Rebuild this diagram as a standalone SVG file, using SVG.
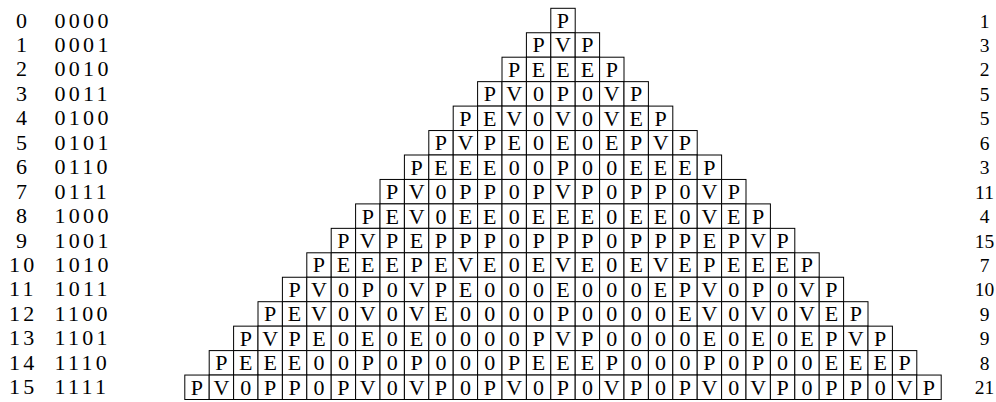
<svg xmlns="http://www.w3.org/2000/svg" xmlns:xlink="http://www.w3.org/1999/xlink" width="996" height="402" viewBox="0 0 996 402">
<style>
.box{fill:#fff;stroke:#000;stroke-width:1}
.t{font-family:"Liberation Serif","Times New Roman",serif;font-size:22px;text-anchor:middle;fill:#000}
.l{font-family:"Liberation Serif","Times New Roman",serif;font-size:22px;letter-spacing:3.3px;fill:#000}
.r{font-family:"Liberation Serif","Times New Roman",serif;font-size:19.5px;text-anchor:middle;fill:#000}
</style>
<defs><rect id="c" class="box" width="24.4" height="24.45"/></defs>
<rect width="996" height="402" fill="#fff"/>
<g id="labels">
<text class="l" x="16" y="27.5">0</text><text class="l" x="54.5" y="27.5">0000</text>
<text class="l" x="16" y="51.95">1</text><text class="l" x="54.5" y="51.95">0001</text>
<text class="l" x="16" y="76.4">2</text><text class="l" x="54.5" y="76.4">0010</text>
<text class="l" x="16" y="100.85">3</text><text class="l" x="54.5" y="100.85">0011</text>
<text class="l" x="16" y="125.3">4</text><text class="l" x="54.5" y="125.3">0100</text>
<text class="l" x="16" y="149.75">5</text><text class="l" x="54.5" y="149.75">0101</text>
<text class="l" x="16" y="174.2">6</text><text class="l" x="54.5" y="174.2">0110</text>
<text class="l" x="16" y="198.65">7</text><text class="l" x="54.5" y="198.65">0111</text>
<text class="l" x="16" y="223.1">8</text><text class="l" x="54.5" y="223.1">1000</text>
<text class="l" x="16" y="247.55">9</text><text class="l" x="54.5" y="247.55">1001</text>
<text class="l" x="9" y="272">10</text><text class="l" x="54.5" y="272">1010</text>
<text class="l" x="9" y="296.45">11</text><text class="l" x="54.5" y="296.45">1011</text>
<text class="l" x="9" y="320.9">12</text><text class="l" x="54.5" y="320.9">1100</text>
<text class="l" x="9" y="345.35">13</text><text class="l" x="54.5" y="345.35">1101</text>
<text class="l" x="9" y="369.8">14</text><text class="l" x="54.5" y="369.8">1110</text>
<text class="l" x="9" y="394.25">15</text><text class="l" x="54.5" y="394.25">1111</text>
</g>
<g id="counts">
<text class="r" x="984.5" y="27.5">1</text>
<text class="r" x="984.5" y="51.95">3</text>
<text class="r" x="984.5" y="76.4">2</text>
<text class="r" x="984.5" y="100.85">5</text>
<text class="r" x="984.5" y="125.3">5</text>
<text class="r" x="984.5" y="149.75">6</text>
<text class="r" x="984.5" y="174.2">3</text>
<text class="r" x="984.5" y="198.65">11</text>
<text class="r" x="984.5" y="223.1">4</text>
<text class="r" x="984.5" y="247.55">15</text>
<text class="r" x="984.5" y="272">7</text>
<text class="r" x="984.5" y="296.45">10</text>
<text class="r" x="984.5" y="320.9">9</text>
<text class="r" x="984.5" y="345.35">9</text>
<text class="r" x="984.5" y="369.8">8</text>
<text class="r" x="984.5" y="394.25">21</text>
</g>
<g id="connectors"></g>
<g id="row0" transform="translate(550.8,8.3)">
<use href="#c" x="0"/><text class="t" x="12.2" y="19.6">P</text>
</g>
<g id="row1" transform="translate(526.4,32.75)">
<use href="#c" x="0"/><text class="t" x="12.2" y="19.6">P</text>
<use href="#c" x="24.4"/><text class="t" x="36.6" y="19.6">V</text>
<use href="#c" x="48.8"/><text class="t" x="61" y="19.6">P</text>
</g>
<g id="row2" transform="translate(502,57.2)">
<use href="#c" x="0"/><text class="t" x="12.2" y="19.6">P</text>
<use href="#c" x="24.4"/><text class="t" x="36.6" y="19.6">E</text>
<use href="#c" x="48.8"/><text class="t" x="61" y="19.6">E</text>
<use href="#c" x="73.2"/><text class="t" x="85.4" y="19.6">E</text>
<use href="#c" x="97.6"/><text class="t" x="109.8" y="19.6">P</text>
</g>
<g id="row3" transform="translate(477.6,81.65)">
<use href="#c" x="0"/><text class="t" x="12.2" y="19.6">P</text>
<use href="#c" x="24.4"/><text class="t" x="36.6" y="19.6">V</text>
<use href="#c" x="48.8"/><text class="t" x="61" y="19.6">0</text>
<use href="#c" x="73.2"/><text class="t" x="85.4" y="19.6">P</text>
<use href="#c" x="97.6"/><text class="t" x="109.8" y="19.6">0</text>
<use href="#c" x="122"/><text class="t" x="134.2" y="19.6">V</text>
<use href="#c" x="146.4"/><text class="t" x="158.6" y="19.6">P</text>
</g>
<g id="row4" transform="translate(453.2,106.1)">
<use href="#c" x="0"/><text class="t" x="12.2" y="19.6">P</text>
<use href="#c" x="24.4"/><text class="t" x="36.6" y="19.6">E</text>
<use href="#c" x="48.8"/><text class="t" x="61" y="19.6">V</text>
<use href="#c" x="73.2"/><text class="t" x="85.4" y="19.6">0</text>
<use href="#c" x="97.6"/><text class="t" x="109.8" y="19.6">V</text>
<use href="#c" x="122"/><text class="t" x="134.2" y="19.6">0</text>
<use href="#c" x="146.4"/><text class="t" x="158.6" y="19.6">V</text>
<use href="#c" x="170.8"/><text class="t" x="183" y="19.6">E</text>
<use href="#c" x="195.2"/><text class="t" x="207.4" y="19.6">P</text>
</g>
<g id="row5" transform="translate(428.8,130.55)">
<use href="#c" x="0"/><text class="t" x="12.2" y="19.6">P</text>
<use href="#c" x="24.4"/><text class="t" x="36.6" y="19.6">V</text>
<use href="#c" x="48.8"/><text class="t" x="61" y="19.6">P</text>
<use href="#c" x="73.2"/><text class="t" x="85.4" y="19.6">E</text>
<use href="#c" x="97.6"/><text class="t" x="109.8" y="19.6">0</text>
<use href="#c" x="122"/><text class="t" x="134.2" y="19.6">E</text>
<use href="#c" x="146.4"/><text class="t" x="158.6" y="19.6">0</text>
<use href="#c" x="170.8"/><text class="t" x="183" y="19.6">E</text>
<use href="#c" x="195.2"/><text class="t" x="207.4" y="19.6">P</text>
<use href="#c" x="219.6"/><text class="t" x="231.8" y="19.6">V</text>
<use href="#c" x="244"/><text class="t" x="256.2" y="19.6">P</text>
</g>
<g id="row6" transform="translate(404.4,155)">
<use href="#c" x="0"/><text class="t" x="12.2" y="19.6">P</text>
<use href="#c" x="24.4"/><text class="t" x="36.6" y="19.6">E</text>
<use href="#c" x="48.8"/><text class="t" x="61" y="19.6">E</text>
<use href="#c" x="73.2"/><text class="t" x="85.4" y="19.6">E</text>
<use href="#c" x="97.6"/><text class="t" x="109.8" y="19.6">0</text>
<use href="#c" x="122"/><text class="t" x="134.2" y="19.6">0</text>
<use href="#c" x="146.4"/><text class="t" x="158.6" y="19.6">P</text>
<use href="#c" x="170.8"/><text class="t" x="183" y="19.6">0</text>
<use href="#c" x="195.2"/><text class="t" x="207.4" y="19.6">0</text>
<use href="#c" x="219.6"/><text class="t" x="231.8" y="19.6">E</text>
<use href="#c" x="244"/><text class="t" x="256.2" y="19.6">E</text>
<use href="#c" x="268.4"/><text class="t" x="280.6" y="19.6">E</text>
<use href="#c" x="292.8"/><text class="t" x="305" y="19.6">P</text>
</g>
<g id="row7" transform="translate(380,179.45)">
<use href="#c" x="0"/><text class="t" x="12.2" y="19.6">P</text>
<use href="#c" x="24.4"/><text class="t" x="36.6" y="19.6">V</text>
<use href="#c" x="48.8"/><text class="t" x="61" y="19.6">0</text>
<use href="#c" x="73.2"/><text class="t" x="85.4" y="19.6">P</text>
<use href="#c" x="97.6"/><text class="t" x="109.8" y="19.6">P</text>
<use href="#c" x="122"/><text class="t" x="134.2" y="19.6">0</text>
<use href="#c" x="146.4"/><text class="t" x="158.6" y="19.6">P</text>
<use href="#c" x="170.8"/><text class="t" x="183" y="19.6">V</text>
<use href="#c" x="195.2"/><text class="t" x="207.4" y="19.6">P</text>
<use href="#c" x="219.6"/><text class="t" x="231.8" y="19.6">0</text>
<use href="#c" x="244"/><text class="t" x="256.2" y="19.6">P</text>
<use href="#c" x="268.4"/><text class="t" x="280.6" y="19.6">P</text>
<use href="#c" x="292.8"/><text class="t" x="305" y="19.6">0</text>
<use href="#c" x="317.2"/><text class="t" x="329.4" y="19.6">V</text>
<use href="#c" x="341.6"/><text class="t" x="353.8" y="19.6">P</text>
</g>
<g id="row8" transform="translate(355.6,203.9)">
<use href="#c" x="0"/><text class="t" x="12.2" y="19.6">P</text>
<use href="#c" x="24.4"/><text class="t" x="36.6" y="19.6">E</text>
<use href="#c" x="48.8"/><text class="t" x="61" y="19.6">V</text>
<use href="#c" x="73.2"/><text class="t" x="85.4" y="19.6">0</text>
<use href="#c" x="97.6"/><text class="t" x="109.8" y="19.6">E</text>
<use href="#c" x="122"/><text class="t" x="134.2" y="19.6">E</text>
<use href="#c" x="146.4"/><text class="t" x="158.6" y="19.6">0</text>
<use href="#c" x="170.8"/><text class="t" x="183" y="19.6">E</text>
<use href="#c" x="195.2"/><text class="t" x="207.4" y="19.6">E</text>
<use href="#c" x="219.6"/><text class="t" x="231.8" y="19.6">E</text>
<use href="#c" x="244"/><text class="t" x="256.2" y="19.6">0</text>
<use href="#c" x="268.4"/><text class="t" x="280.6" y="19.6">E</text>
<use href="#c" x="292.8"/><text class="t" x="305" y="19.6">E</text>
<use href="#c" x="317.2"/><text class="t" x="329.4" y="19.6">0</text>
<use href="#c" x="341.6"/><text class="t" x="353.8" y="19.6">V</text>
<use href="#c" x="366"/><text class="t" x="378.2" y="19.6">E</text>
<use href="#c" x="390.4"/><text class="t" x="402.6" y="19.6">P</text>
</g>
<g id="row9" transform="translate(331.2,228.35)">
<use href="#c" x="0"/><text class="t" x="12.2" y="19.6">P</text>
<use href="#c" x="24.4"/><text class="t" x="36.6" y="19.6">V</text>
<use href="#c" x="48.8"/><text class="t" x="61" y="19.6">P</text>
<use href="#c" x="73.2"/><text class="t" x="85.4" y="19.6">E</text>
<use href="#c" x="97.6"/><text class="t" x="109.8" y="19.6">P</text>
<use href="#c" x="122"/><text class="t" x="134.2" y="19.6">P</text>
<use href="#c" x="146.4"/><text class="t" x="158.6" y="19.6">P</text>
<use href="#c" x="170.8"/><text class="t" x="183" y="19.6">0</text>
<use href="#c" x="195.2"/><text class="t" x="207.4" y="19.6">P</text>
<use href="#c" x="219.6"/><text class="t" x="231.8" y="19.6">P</text>
<use href="#c" x="244"/><text class="t" x="256.2" y="19.6">P</text>
<use href="#c" x="268.4"/><text class="t" x="280.6" y="19.6">0</text>
<use href="#c" x="292.8"/><text class="t" x="305" y="19.6">P</text>
<use href="#c" x="317.2"/><text class="t" x="329.4" y="19.6">P</text>
<use href="#c" x="341.6"/><text class="t" x="353.8" y="19.6">P</text>
<use href="#c" x="366"/><text class="t" x="378.2" y="19.6">E</text>
<use href="#c" x="390.4"/><text class="t" x="402.6" y="19.6">P</text>
<use href="#c" x="414.8"/><text class="t" x="427" y="19.6">V</text>
<use href="#c" x="439.2"/><text class="t" x="451.4" y="19.6">P</text>
</g>
<g id="row10" transform="translate(306.8,252.8)">
<use href="#c" x="0"/><text class="t" x="12.2" y="19.6">P</text>
<use href="#c" x="24.4"/><text class="t" x="36.6" y="19.6">E</text>
<use href="#c" x="48.8"/><text class="t" x="61" y="19.6">E</text>
<use href="#c" x="73.2"/><text class="t" x="85.4" y="19.6">E</text>
<use href="#c" x="97.6"/><text class="t" x="109.8" y="19.6">P</text>
<use href="#c" x="122"/><text class="t" x="134.2" y="19.6">E</text>
<use href="#c" x="146.4"/><text class="t" x="158.6" y="19.6">V</text>
<use href="#c" x="170.8"/><text class="t" x="183" y="19.6">E</text>
<use href="#c" x="195.2"/><text class="t" x="207.4" y="19.6">0</text>
<use href="#c" x="219.6"/><text class="t" x="231.8" y="19.6">E</text>
<use href="#c" x="244"/><text class="t" x="256.2" y="19.6">V</text>
<use href="#c" x="268.4"/><text class="t" x="280.6" y="19.6">E</text>
<use href="#c" x="292.8"/><text class="t" x="305" y="19.6">0</text>
<use href="#c" x="317.2"/><text class="t" x="329.4" y="19.6">E</text>
<use href="#c" x="341.6"/><text class="t" x="353.8" y="19.6">V</text>
<use href="#c" x="366"/><text class="t" x="378.2" y="19.6">E</text>
<use href="#c" x="390.4"/><text class="t" x="402.6" y="19.6">P</text>
<use href="#c" x="414.8"/><text class="t" x="427" y="19.6">E</text>
<use href="#c" x="439.2"/><text class="t" x="451.4" y="19.6">E</text>
<use href="#c" x="463.6"/><text class="t" x="475.8" y="19.6">E</text>
<use href="#c" x="488"/><text class="t" x="500.2" y="19.6">P</text>
</g>
<g id="row11" transform="translate(282.4,277.25)">
<use href="#c" x="0"/><text class="t" x="12.2" y="19.6">P</text>
<use href="#c" x="24.4"/><text class="t" x="36.6" y="19.6">V</text>
<use href="#c" x="48.8"/><text class="t" x="61" y="19.6">0</text>
<use href="#c" x="73.2"/><text class="t" x="85.4" y="19.6">P</text>
<use href="#c" x="97.6"/><text class="t" x="109.8" y="19.6">0</text>
<use href="#c" x="122"/><text class="t" x="134.2" y="19.6">V</text>
<use href="#c" x="146.4"/><text class="t" x="158.6" y="19.6">P</text>
<use href="#c" x="170.8"/><text class="t" x="183" y="19.6">E</text>
<use href="#c" x="195.2"/><text class="t" x="207.4" y="19.6">0</text>
<use href="#c" x="219.6"/><text class="t" x="231.8" y="19.6">0</text>
<use href="#c" x="244"/><text class="t" x="256.2" y="19.6">0</text>
<use href="#c" x="268.4"/><text class="t" x="280.6" y="19.6">E</text>
<use href="#c" x="292.8"/><text class="t" x="305" y="19.6">0</text>
<use href="#c" x="317.2"/><text class="t" x="329.4" y="19.6">0</text>
<use href="#c" x="341.6"/><text class="t" x="353.8" y="19.6">0</text>
<use href="#c" x="366"/><text class="t" x="378.2" y="19.6">E</text>
<use href="#c" x="390.4"/><text class="t" x="402.6" y="19.6">P</text>
<use href="#c" x="414.8"/><text class="t" x="427" y="19.6">V</text>
<use href="#c" x="439.2"/><text class="t" x="451.4" y="19.6">0</text>
<use href="#c" x="463.6"/><text class="t" x="475.8" y="19.6">P</text>
<use href="#c" x="488"/><text class="t" x="500.2" y="19.6">0</text>
<use href="#c" x="512.4"/><text class="t" x="524.6" y="19.6">V</text>
<use href="#c" x="536.8"/><text class="t" x="549" y="19.6">P</text>
</g>
<g id="row12" transform="translate(258,301.7)">
<use href="#c" x="0"/><text class="t" x="12.2" y="19.6">P</text>
<use href="#c" x="24.4"/><text class="t" x="36.6" y="19.6">E</text>
<use href="#c" x="48.8"/><text class="t" x="61" y="19.6">V</text>
<use href="#c" x="73.2"/><text class="t" x="85.4" y="19.6">0</text>
<use href="#c" x="97.6"/><text class="t" x="109.8" y="19.6">V</text>
<use href="#c" x="122"/><text class="t" x="134.2" y="19.6">0</text>
<use href="#c" x="146.4"/><text class="t" x="158.6" y="19.6">V</text>
<use href="#c" x="170.8"/><text class="t" x="183" y="19.6">E</text>
<use href="#c" x="195.2"/><text class="t" x="207.4" y="19.6">0</text>
<use href="#c" x="219.6"/><text class="t" x="231.8" y="19.6">0</text>
<use href="#c" x="244"/><text class="t" x="256.2" y="19.6">0</text>
<use href="#c" x="268.4"/><text class="t" x="280.6" y="19.6">0</text>
<use href="#c" x="292.8"/><text class="t" x="305" y="19.6">P</text>
<use href="#c" x="317.2"/><text class="t" x="329.4" y="19.6">0</text>
<use href="#c" x="341.6"/><text class="t" x="353.8" y="19.6">0</text>
<use href="#c" x="366"/><text class="t" x="378.2" y="19.6">0</text>
<use href="#c" x="390.4"/><text class="t" x="402.6" y="19.6">0</text>
<use href="#c" x="414.8"/><text class="t" x="427" y="19.6">E</text>
<use href="#c" x="439.2"/><text class="t" x="451.4" y="19.6">V</text>
<use href="#c" x="463.6"/><text class="t" x="475.8" y="19.6">0</text>
<use href="#c" x="488"/><text class="t" x="500.2" y="19.6">V</text>
<use href="#c" x="512.4"/><text class="t" x="524.6" y="19.6">0</text>
<use href="#c" x="536.8"/><text class="t" x="549" y="19.6">V</text>
<use href="#c" x="561.2"/><text class="t" x="573.4" y="19.6">E</text>
<use href="#c" x="585.6"/><text class="t" x="597.8" y="19.6">P</text>
</g>
<g id="row13" transform="translate(233.6,326.15)">
<use href="#c" x="0"/><text class="t" x="12.2" y="19.6">P</text>
<use href="#c" x="24.4"/><text class="t" x="36.6" y="19.6">V</text>
<use href="#c" x="48.8"/><text class="t" x="61" y="19.6">P</text>
<use href="#c" x="73.2"/><text class="t" x="85.4" y="19.6">E</text>
<use href="#c" x="97.6"/><text class="t" x="109.8" y="19.6">0</text>
<use href="#c" x="122"/><text class="t" x="134.2" y="19.6">E</text>
<use href="#c" x="146.4"/><text class="t" x="158.6" y="19.6">0</text>
<use href="#c" x="170.8"/><text class="t" x="183" y="19.6">E</text>
<use href="#c" x="195.2"/><text class="t" x="207.4" y="19.6">0</text>
<use href="#c" x="219.6"/><text class="t" x="231.8" y="19.6">0</text>
<use href="#c" x="244"/><text class="t" x="256.2" y="19.6">0</text>
<use href="#c" x="268.4"/><text class="t" x="280.6" y="19.6">0</text>
<use href="#c" x="292.8"/><text class="t" x="305" y="19.6">P</text>
<use href="#c" x="317.2"/><text class="t" x="329.4" y="19.6">V</text>
<use href="#c" x="341.6"/><text class="t" x="353.8" y="19.6">P</text>
<use href="#c" x="366"/><text class="t" x="378.2" y="19.6">0</text>
<use href="#c" x="390.4"/><text class="t" x="402.6" y="19.6">0</text>
<use href="#c" x="414.8"/><text class="t" x="427" y="19.6">0</text>
<use href="#c" x="439.2"/><text class="t" x="451.4" y="19.6">0</text>
<use href="#c" x="463.6"/><text class="t" x="475.8" y="19.6">E</text>
<use href="#c" x="488"/><text class="t" x="500.2" y="19.6">0</text>
<use href="#c" x="512.4"/><text class="t" x="524.6" y="19.6">E</text>
<use href="#c" x="536.8"/><text class="t" x="549" y="19.6">0</text>
<use href="#c" x="561.2"/><text class="t" x="573.4" y="19.6">E</text>
<use href="#c" x="585.6"/><text class="t" x="597.8" y="19.6">P</text>
<use href="#c" x="610"/><text class="t" x="622.2" y="19.6">V</text>
<use href="#c" x="634.4"/><text class="t" x="646.6" y="19.6">P</text>
</g>
<g id="row14" transform="translate(209.2,350.6)">
<use href="#c" x="0"/><text class="t" x="12.2" y="19.6">P</text>
<use href="#c" x="24.4"/><text class="t" x="36.6" y="19.6">E</text>
<use href="#c" x="48.8"/><text class="t" x="61" y="19.6">E</text>
<use href="#c" x="73.2"/><text class="t" x="85.4" y="19.6">E</text>
<use href="#c" x="97.6"/><text class="t" x="109.8" y="19.6">0</text>
<use href="#c" x="122"/><text class="t" x="134.2" y="19.6">0</text>
<use href="#c" x="146.4"/><text class="t" x="158.6" y="19.6">P</text>
<use href="#c" x="170.8"/><text class="t" x="183" y="19.6">0</text>
<use href="#c" x="195.2"/><text class="t" x="207.4" y="19.6">P</text>
<use href="#c" x="219.6"/><text class="t" x="231.8" y="19.6">0</text>
<use href="#c" x="244"/><text class="t" x="256.2" y="19.6">0</text>
<use href="#c" x="268.4"/><text class="t" x="280.6" y="19.6">0</text>
<use href="#c" x="292.8"/><text class="t" x="305" y="19.6">P</text>
<use href="#c" x="317.2"/><text class="t" x="329.4" y="19.6">E</text>
<use href="#c" x="341.6"/><text class="t" x="353.8" y="19.6">E</text>
<use href="#c" x="366"/><text class="t" x="378.2" y="19.6">E</text>
<use href="#c" x="390.4"/><text class="t" x="402.6" y="19.6">P</text>
<use href="#c" x="414.8"/><text class="t" x="427" y="19.6">0</text>
<use href="#c" x="439.2"/><text class="t" x="451.4" y="19.6">0</text>
<use href="#c" x="463.6"/><text class="t" x="475.8" y="19.6">0</text>
<use href="#c" x="488"/><text class="t" x="500.2" y="19.6">P</text>
<use href="#c" x="512.4"/><text class="t" x="524.6" y="19.6">0</text>
<use href="#c" x="536.8"/><text class="t" x="549" y="19.6">P</text>
<use href="#c" x="561.2"/><text class="t" x="573.4" y="19.6">0</text>
<use href="#c" x="585.6"/><text class="t" x="597.8" y="19.6">0</text>
<use href="#c" x="610"/><text class="t" x="622.2" y="19.6">E</text>
<use href="#c" x="634.4"/><text class="t" x="646.6" y="19.6">E</text>
<use href="#c" x="658.8"/><text class="t" x="671" y="19.6">E</text>
<use href="#c" x="683.2"/><text class="t" x="695.4" y="19.6">P</text>
</g>
<g id="row15" transform="translate(184.8,375.05)">
<use href="#c" x="0"/><text class="t" x="12.2" y="19.6">P</text>
<use href="#c" x="24.4"/><text class="t" x="36.6" y="19.6">V</text>
<use href="#c" x="48.8"/><text class="t" x="61" y="19.6">0</text>
<use href="#c" x="73.2"/><text class="t" x="85.4" y="19.6">P</text>
<use href="#c" x="97.6"/><text class="t" x="109.8" y="19.6">P</text>
<use href="#c" x="122"/><text class="t" x="134.2" y="19.6">0</text>
<use href="#c" x="146.4"/><text class="t" x="158.6" y="19.6">P</text>
<use href="#c" x="170.8"/><text class="t" x="183" y="19.6">V</text>
<use href="#c" x="195.2"/><text class="t" x="207.4" y="19.6">0</text>
<use href="#c" x="219.6"/><text class="t" x="231.8" y="19.6">V</text>
<use href="#c" x="244"/><text class="t" x="256.2" y="19.6">P</text>
<use href="#c" x="268.4"/><text class="t" x="280.6" y="19.6">0</text>
<use href="#c" x="292.8"/><text class="t" x="305" y="19.6">P</text>
<use href="#c" x="317.2"/><text class="t" x="329.4" y="19.6">V</text>
<use href="#c" x="341.6"/><text class="t" x="353.8" y="19.6">0</text>
<use href="#c" x="366"/><text class="t" x="378.2" y="19.6">P</text>
<use href="#c" x="390.4"/><text class="t" x="402.6" y="19.6">0</text>
<use href="#c" x="414.8"/><text class="t" x="427" y="19.6">V</text>
<use href="#c" x="439.2"/><text class="t" x="451.4" y="19.6">P</text>
<use href="#c" x="463.6"/><text class="t" x="475.8" y="19.6">0</text>
<use href="#c" x="488"/><text class="t" x="500.2" y="19.6">P</text>
<use href="#c" x="512.4"/><text class="t" x="524.6" y="19.6">V</text>
<use href="#c" x="536.8"/><text class="t" x="549" y="19.6">0</text>
<use href="#c" x="561.2"/><text class="t" x="573.4" y="19.6">V</text>
<use href="#c" x="585.6"/><text class="t" x="597.8" y="19.6">P</text>
<use href="#c" x="610"/><text class="t" x="622.2" y="19.6">0</text>
<use href="#c" x="634.4"/><text class="t" x="646.6" y="19.6">P</text>
<use href="#c" x="658.8"/><text class="t" x="671" y="19.6">P</text>
<use href="#c" x="683.2"/><text class="t" x="695.4" y="19.6">0</text>
<use href="#c" x="707.6"/><text class="t" x="719.8" y="19.6">V</text>
<use href="#c" x="732"/><text class="t" x="744.2" y="19.6">P</text>
</g>
</svg>
